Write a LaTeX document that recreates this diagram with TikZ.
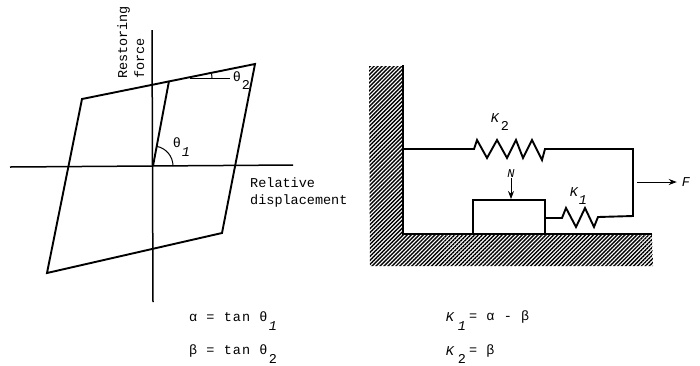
\documentclass[tikz,border=0pt]{standalone}
\usepackage{fontspec}
\setmainfont{Liberation Mono}
\usetikzlibrary{arrows.meta, patterns.meta}

\begin{document}
\begin{tikzpicture}[
    x=1pt, y=-1pt,
    curve/.style={line width=1.9pt, line join=miter},
    axis/.style={line width=1.5pt},
    thinline/.style={line width=1pt},
    flow/.style={-{Stealth[length=8pt, width=6pt]}, line width=1pt},
    hatch/.style={pattern={Lines[angle=45, distance=2.8pt, line width=1.4pt]}, draw=none},
    lbl/.style={inner sep=0pt, font=\fontsize{13.5}{15}\selectfont, align=left},
    eqn/.style={lbl, anchor=west, font=\fontsize{13.5}{15}\selectfont\addfontfeature{LetterSpace=8}},
    sym/.style={inner sep=0pt, font=\fontsize{13.5}{15}\selectfont\itshape}
]
\useasboundingbox (0,0) rectangle (700,365);

% hysteresis loop
\coordinate (origin) at (153,166);
\coordinate (a) at (82,99);
\coordinate (b) at (255,64);
\coordinate (c) at (222,233);
\coordinate (d) at (47,273);
\coordinate (top) at (169,81);
\coordinate (yup) at (152,30);
\coordinate (ydown) at (153,302);
\coordinate (xleft) at (10,167);
\coordinate (xright) at (293,165);
\coordinate (refa) at (190,78);
\coordinate (refb) at (230,78);

\draw[axis] (yup) -- (ydown);
\draw[axis] (xleft) -- (xright);
\draw[curve] (a) -- (b) -- (c) -- (d) -- cycle;
\draw[curve] (origin) -- (top);
\draw[thinline] (refa) -- (refb);
\draw[thinline] (173,166) arc[start angle=0, end angle=-80, radius=20];
\draw[thinline] (212,78) arc[start angle=0, end angle=-11, radius=22];

\node[lbl, rotate=90, anchor=base west] (restoring) at (127,79) {Restoring};
\node[lbl, rotate=90, anchor=base west] (force) at (144,79) {force};
\node[lbl, anchor=west] (relative) at (250,183) {Relative};
\node[lbl, anchor=west] (displ) at (250,201) {displacement};
\node[lbl] (thetaone) at (177,143) {θ};
\node[sym] (thetaonesub) at (186,152) {1};
\node[lbl] (thetatwo) at (237,77) {θ};
\node[lbl] (thetatwosub) at (246,85) {2};

% friction element model
\fill[hatch] (369,66) -- (403,66) -- (403,234) -- (652,234) -- (653,266) -- (370,266) -- cycle;
\draw[curve] (403,65) -- (403,234) -- (652,234);

\node[draw, line width=1.9pt, minimum width=72pt, minimum height=34pt, inner sep=0pt] (block) at (509,217) {};

\coordinate (wallpt) at (403,149);
\coordinate (joint) at (633,149);
\coordinate (jointlow) at (633,216);

\draw[curve] (wallpt) -- (474,149) -- (477,140) -- (487,158) -- (497,140) -- (507,158)
    -- (516,140) -- (523,158) -- (532,140) -- (542,160) -- (545,149) -- (joint) -- (jointlow)
    -- (598,217) -- (594,227) -- (585,208) -- (576,227) -- (566,208) -- (562,218) -- (block.east |- 0,218);

\node[sym] (kay) at (495,118) {K};
\node[lbl] (kaysub) at (505,126) {2};
\node[sym] (kayone) at (574,192) {K};
\node[sym] (kayonesub) at (583,200) {1};

\node[sym, font=\fontsize{12}{13}\selectfont\itshape] (load) at (511,174) {N};
\draw[flow] (load) -- (block.north -| load);

\coordinate (pull) at (637,182);
\node[sym, inner sep=5pt] (pullf) at (686,182) {F};
\draw[flow] (pull) -- (pullf);

% relations
\node[eqn] (eqa) at (189,317) {α = tan θ};
\node[sym] (eqasub) at (273,326) {1};
\node[eqn] (eqb) at (189,351) {β = tan θ};
\node[lbl] (eqbsub) at (273,359) {2};
\node[sym] (eqc) at (450,317) {K};
\node[sym] (eqcsub) at (462,326) {1};
\node[eqn] (eqcr) at (469,317) {= α - β};
\node[sym] (eqd) at (450,351) {K};
\node[lbl] (eqdsub) at (462,359) {2};
\node[eqn] (eqdr) at (469,351) {= β};
\end{tikzpicture}
\end{document}
